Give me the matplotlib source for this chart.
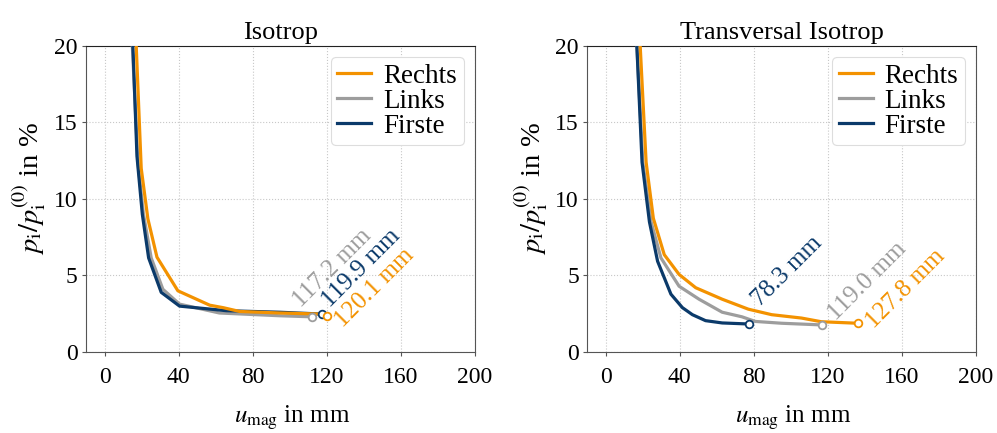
import numpy as np
import matplotlib
matplotlib.use("Agg")
import matplotlib.pyplot as plt

plt.rcParams['font.family'] = ['Liberation Serif', 'DejaVu Serif']
plt.rcParams['mathtext.fontset'] = 'stix'

ORANGE = '#F39200'
GRAY = '#9D9D9D'
BLUE = '#0B3A6A'

# Isotrop
iso_rechts_x = [16.5, 17.1, 19.8, 23.4, 28.3, 39.6, 56.8, 64.0, 73.0, 94.6, 117.0, 120.1]
iso_rechts_y = [21.0, 20.0, 12.0, 8.7, 6.2, 4.0, 3.06, 2.9, 2.65, 2.55, 2.48, 2.37]
iso_links_x = [14.6, 15.0, 18.0, 21.0, 25.2, 31.5, 40.5, 62.0, 94.6, 112.0]
iso_links_y = [21.0, 20.0, 12.4, 9.0, 6.15, 4.1, 3.13, 2.55, 2.37, 2.3]
iso_firste_x = [15.0, 15.3, 17.5, 20.4, 23.8, 30.6, 40.5, 65.8, 94.6, 117.5]
iso_firste_y = [21.0, 20.0, 12.8, 9.0, 6.15, 3.9, 3.0, 2.7, 2.6, 2.48]

# Transversal Isotrop
ti_rechts_x = [18.2, 18.6, 21.8, 25.7, 31.6, 39.6, 48.6, 62.9, 77.0, 89.6, 105.7, 116.4, 136.0]
ti_rechts_y = [21.0, 20.0, 12.4, 8.74, 6.36, 5.07, 4.2, 3.45, 2.8, 2.44, 2.22, 1.98, 1.88]
ti_links_x = [16.5, 16.8, 20.0, 24.5, 29.8, 39.6, 50.4, 62.9, 73.6, 80.7, 95.0, 116.8]
ti_links_y = [21.0, 20.0, 12.4, 8.5, 6.15, 4.3, 3.45, 2.6, 2.3, 2.0, 1.88, 1.77]
ti_firste_x = [16.5, 16.8, 19.6, 23.6, 28.0, 35.2, 41.4, 46.8, 53.9, 62.9, 77.5]
ti_firste_y = [21.0, 20.0, 12.4, 8.5, 5.93, 3.78, 2.9, 2.44, 2.05, 1.9, 1.83]

# end labels: Rechts, Links, Firste
iso_labels = ['120.1 mm', '117.2 mm', '119.9 mm']
ti_labels = ['127.8 mm', '119.0 mm', '78.3 mm']

# where the rotated labels start (data coords)
iso_label_pos = [(129.0, 1.55), (106.0, 2.85), (121.5, 2.85)]
ti_label_pos = [(145.0, 1.5), (124.5, 2.0), (83.5, 2.95)]

fig = plt.figure(figsize=(9.97, 4.33), dpi=100)
ax1 = fig.add_axes([0.0863, 0.187, 0.390, 0.707])
ax2 = fig.add_axes([0.589, 0.187, 0.390, 0.707])


def draw(ax, title, series, labels, label_pos):
    names = ['Rechts', 'Links', 'Firste']
    colors = [ORANGE, GRAY, BLUE]
    zs = [3.2, 3.0, 3.1]
    for i in [2, 1, 0]:
        x, y = series[i]
        ax.plot(x, y, color=colors[i], lw=2.3, label=names[i], zorder=zs[i])
    for i in [2, 1, 0]:
        x, y = series[i]
        ax.plot(x[-1], y[-1], 'o', ms=5.5, mfc='white', mec=colors[i], mew=1.3, zorder=5)
        lx, ly = label_pos[i]
        ax.text(lx, ly, labels[i], color=colors[i], fontsize=18,
                rotation=45, rotation_mode='anchor', ha='left', va='baseline', zorder=6)
    ax.set_xlim(-10, 200)
    ax.set_ylim(0, 20)
    ax.set_xticks([0, 40, 80, 120, 160, 200])
    ax.set_yticks([0, 5, 10, 15, 20])
    ax.grid(True, ls=':', color='#c8c8c8', lw=0.8)
    ax.set_axisbelow(True)
    ax.tick_params(labelsize=17, length=3, color='#555555')
    ax.tick_params(axis='x', pad=8)
    ax.tick_params(axis='y', pad=3)
    for s in ax.spines.values():
        s.set_color('#555555')
    ax.spines['top'].set_color('#222222')
    ax.set_title(title, fontsize=19, pad=5)
    ax.set_xlabel(r'$u_\mathrm{mag}$ in mm', fontsize=18)
    ax.xaxis.set_label_coords(0.53, -0.17)
    ax.set_ylabel(r'$p_\mathrm{i}/p_\mathrm{i}^{(0)}$ in %', fontsize=20.5)
    ax.yaxis.set_label_coords(-0.097, 0.535)
    handles, lbls = ax.get_legend_handles_labels()
    idx = [lbls.index(n) for n in names]
    leg = ax.legend([handles[k] for k in idx], names, loc='upper right', fontsize=19.5,
                    handlelength=1.25, handletextpad=0.45, borderpad=0.25, labelspacing=0.0,
                    borderaxespad=0.4, fancybox=True, framealpha=1.0, edgecolor='#dddddd')
    leg.get_frame().set_linewidth(0.8)


draw(ax1, 'Isotrop',
     [(iso_rechts_x, iso_rechts_y), (iso_links_x, iso_links_y), (iso_firste_x, iso_firste_y)],
     iso_labels, iso_label_pos)
draw(ax2, 'Transversal Isotrop',
     [(ti_rechts_x, ti_rechts_y), (ti_links_x, ti_links_y), (ti_firste_x, ti_firste_y)],
     ti_labels, ti_label_pos)

fig.savefig('out.png', dpi=100)
